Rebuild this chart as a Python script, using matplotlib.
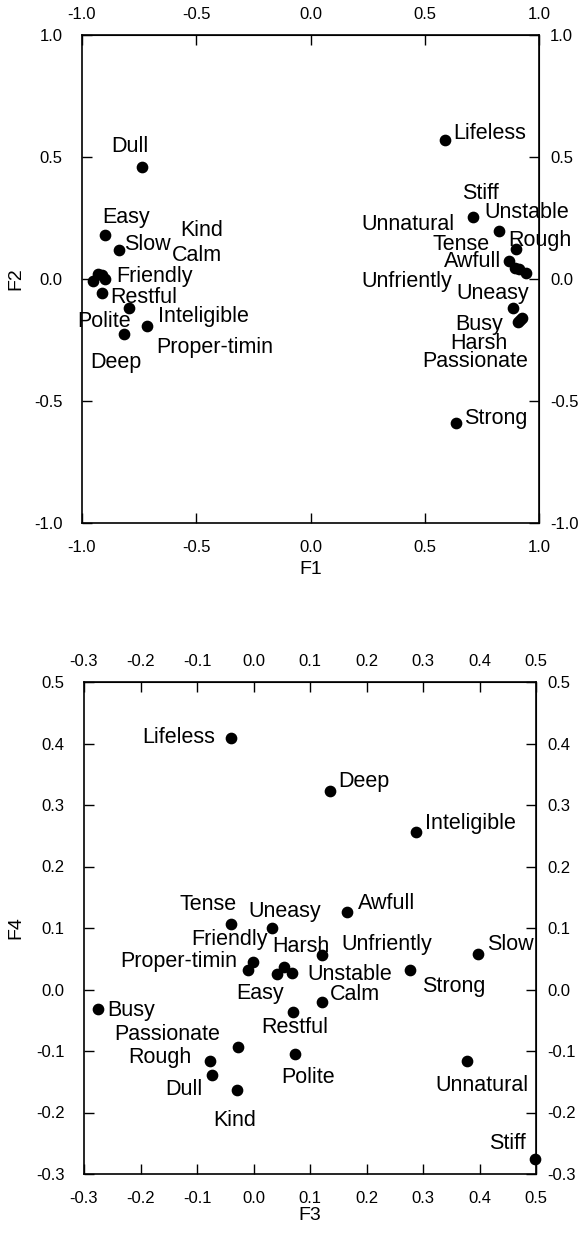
import numpy as np
import matplotlib
matplotlib.use("Agg")
import matplotlib.pyplot as plt

plt.rcParams['font.family'] = ['Liberation Sans', 'DejaVu Sans']
plt.rcParams['axes.unicode_minus'] = False

# factor loadings, F1 / F2
words12 = ["Dull", "Easy", "Slow", "Kind", "Calm", "Friendly", "Polite", "Restful",
           "Proper-timin", "Inteligible", "Deep",
           "Lifeless", "Stiff", "Unstable", "Rough", "Awfull", "Unnatural", "Tense",
           "Unfriently", "Uneasy", "Busy", "Harsh", "Passionate", "Strong"]
f1 = [-0.739, -0.899, -0.838, -0.914, -0.929, -0.899, -0.951, -0.911,
      -0.793, -0.717, -0.815,
      0.589, 0.713, 0.825, 0.899, 0.870, 0.895, 0.912,
      0.943, 0.885, 0.910, 0.924, 0.917, 0.637]
f2 = [0.460, 0.180, 0.119, 0.016, 0.020, 0.000, -0.008, -0.059,
      -0.120, -0.191, -0.227,
      0.570, 0.253, 0.197, 0.122, 0.074, 0.044, 0.040,
      0.026, -0.120, -0.175, -0.161, -0.168, -0.591]

# factor loadings, F3 / F4
words34 = ["Lifeless", "Deep", "Inteligible", "Awfull", "Tense", "Uneasy", "Friendly",
           "Proper-timin", "Harsh", "Unstable", "Easy", "Unfriently", "Slow", "Strong",
           "Calm", "Restful", "Busy", "Passionate", "Polite", "Rough", "Dull", "Kind",
           "Unnatural", "Stiff"]
f3 = [-0.040, 0.135, 0.287, 0.166, -0.040, 0.032, -0.001,
      -0.009, 0.054, 0.069, 0.041, 0.122, 0.398, 0.277,
      0.122, 0.070, -0.275, -0.027, 0.073, -0.077, -0.074, -0.030,
      0.377, 0.498]
f4 = [0.409, 0.323, 0.256, 0.126, 0.107, 0.100, 0.044,
      0.032, 0.037, 0.027, 0.025, 0.056, 0.058, 0.032,
      -0.021, -0.036, -0.031, -0.093, -0.105, -0.116, -0.139, -0.163,
      -0.116, -0.276]

# label placement, pixel offsets from each dot
off12 = {"Dull": (-12, 20), "Easy": (21, 18), "Slow": (28, 5), "Kind": (100, 45),
         "Calm": (99, 19), "Friendly": (49, 3), "Polite": (11, -41), "Restful": (41, -4),
         "Proper-timin": (85, -39), "Inteligible": (57, 9), "Deep": (-8, -28),
         "Lifeless": (45, 6), "Stiff": (7, 24), "Unstable": (28, 18), "Rough": (24, 9),
         "Awfull": (-37, -1), "Unnatural": (-107, 44), "Tense": (-58, 25),
         "Unfriently": (-119, -9), "Uneasy": (-20, 15), "Busy": (-39, -3),
         "Harsh": (-43, -25), "Passionate": (-45, -42), "Strong": (40, 5)}
off34 = {"Lifeless": (-52, 0), "Deep": (34, 9), "Inteligible": (55, 9), "Awfull": (39, 9),
         "Tense": (-23, 19), "Uneasy": (13, 17), "Friendly": (-23, 23),
         "Proper-timin": (-70, 8), "Harsh": (17, 20), "Unstable": (57, -2),
         "Easy": (-17, -19), "Unfriently": (64, 11), "Slow": (32, 9), "Strong": (44, -17),
         "Calm": (33, 8), "Restful": (2, -16), "Busy": (33, -2), "Passionate": (-71, 12),
         "Polite": (13, -23), "Rough": (-50, 3), "Dull": (-28, -15), "Kind": (-2, -31),
         "Unnatural": (15, -25), "Stiff": (-27, 16)}

W, H = 584, 1237
fig = plt.figure(figsize=(W / 100, H / 100), dpi=100)
fmt = matplotlib.ticker.FormatStrFormatter('%.1f')


def panel(rect, xs, ys, words, offs, lim, ticks, xlab, ylab, xl_y, yl_x):
    ax = fig.add_axes(rect)
    ax.scatter(xs, ys, s=55, color='black', zorder=3, clip_on=False)
    for w, x, y in zip(words, xs, ys):
        dx, dy = offs[w]
        ax.annotate(w, (x, y), xytext=(dx, dy), textcoords='offset pixels',
                    ha='center', va='center', fontsize=15.5, clip_on=False)
    ax.set_xlim(lim)
    ax.set_ylim(lim)
    ax.set_xticks(ticks)
    ax.set_yticks(ticks)
    ax.xaxis.set_major_formatter(fmt)
    ax.yaxis.set_major_formatter(fmt)
    ax.tick_params(axis='x', direction='in', length=7, width=1, labelsize=12, pad=12)
    ax.tick_params(axis='y', direction='in', length=7, width=1, labelsize=12, pad=14)
    for s in ax.spines.values():
        s.set_linewidth(1.2)
    ax.set_xlabel(xlab, fontsize=14)
    ax.set_ylabel(ylab, fontsize=14)
    ax.xaxis.set_label_coords(0.5, xl_y)
    ax.yaxis.set_label_coords(yl_x, 0.5)

    # tick labels repeated on top and right
    top = ax.secondary_xaxis('top')
    top.set_xticks(ticks)
    top.xaxis.set_major_formatter(fmt)
    top.tick_params(direction='in', length=7, width=1, labelsize=12, pad=9)
    right = ax.secondary_yaxis('right')
    right.set_yticks(ticks)
    right.yaxis.set_major_formatter(fmt)
    right.tick_params(direction='in', length=7, width=1, labelsize=12, pad=8)
    return ax


panel([82 / W, 1 - 523 / H, 457 / W, 488 / H], f1, f2, words12, off12,
      (-1.0, 1.0), np.linspace(-1.0, 1.0, 5), "F1", "F2", -0.078, -0.127)
panel([84 / W, 1 - 1174 / H, 452 / W, 492 / H], f3, f4, words34, off34,
      (-0.3, 0.5), np.linspace(-0.3, 0.5, 9), "F3", "F4", -0.067, -0.133)

fig.savefig("out.png", dpi=100)
